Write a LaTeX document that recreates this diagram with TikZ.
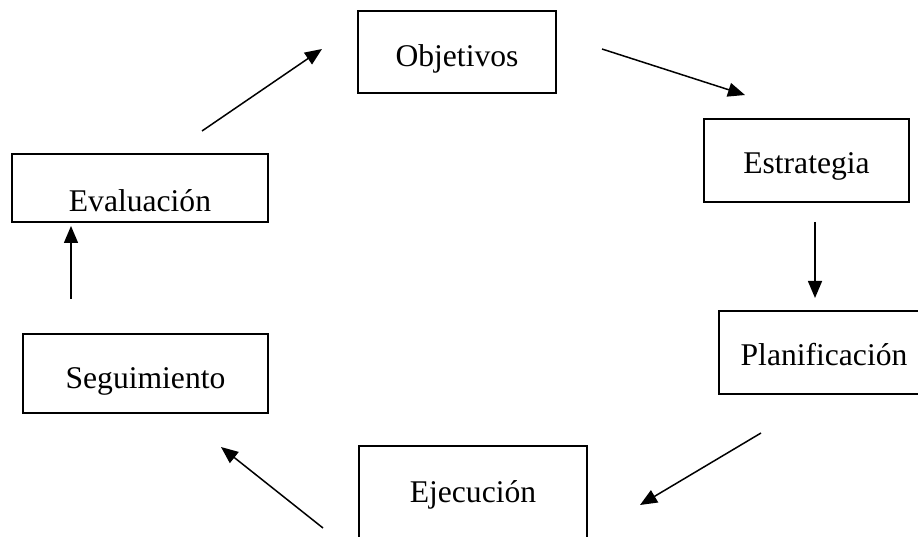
\documentclass[tikz,border=0pt]{standalone}
\usepackage{fontspec}
\setmainfont{Liberation Serif}
\usetikzlibrary{arrows.meta}

% Stage box: top-left corner given; text height/depth place the baseline inside the box
\tikzset{
  stagebox/.style n args={3}{draw, line width=1.5pt, anchor=north west, inner sep=0pt,
    outer sep=0pt, align=center, text width=#1, text height=#2, text depth=#3,
    font=\fontsize{31.6}{36}\selectfont},
  flow/.style={line width=1.5pt, -{Triangle[length=17pt,width=14pt]}}
}

\begin{document}
\begin{tikzpicture}[x=1pt,y=-1pt]
  \useasboundingbox (0,0) rectangle (918,537);
  \fill[white] (0,0) rectangle (918,537);
  \clip (0,0) rectangle (918,537);

  % the six stages of the cycle
  \node[stagebox={198pt}{56pt}{26pt}] (obj) at (358,11)  {Objetivos};
  \node[stagebox={205pt}{55pt}{28pt}] (est) at (704,119) {Estrategia};
  \node[stagebox={210pt}{54pt}{29pt}] (pla) at (719,311) {Planificación};
  \node[stagebox={228pt}{56pt}{58pt}] (eje) at (359,446) {Ejecución};
  \node[stagebox={245pt}{54pt}{25pt}] (seg) at (23,334)  {Seguimiento};
  \node[stagebox={256pt}{58pt}{10pt}] (eva) at (12,154)  {Evaluación};

  % free-standing arrow end points between the boxes
  \coordinate (a1s) at (202,131); \coordinate (a1e) at (322,49);
  \coordinate (a2s) at (602,49);  \coordinate (a2e) at (745,95);
  \coordinate (a3s) at (815,222); \coordinate (a3e) at (815,298);
  \coordinate (a4s) at (761,433); \coordinate (a4e) at (640,505);
  \coordinate (a5s) at (323,528); \coordinate (a5e) at (221,447);
  \coordinate (a6s) at (71,299);  \coordinate (a6e) at (71,226);

  \draw[flow] (a1s) -- (a1e);
  \draw[flow] (a2s) -- (a2e);
  \draw[flow] (a3s) -- (a3e);
  \draw[flow] (a4s) -- (a4e);
  \draw[flow] (a5s) -- (a5e);
  \draw[flow] (a6s) -- (a6e);
\end{tikzpicture}
\end{document}
